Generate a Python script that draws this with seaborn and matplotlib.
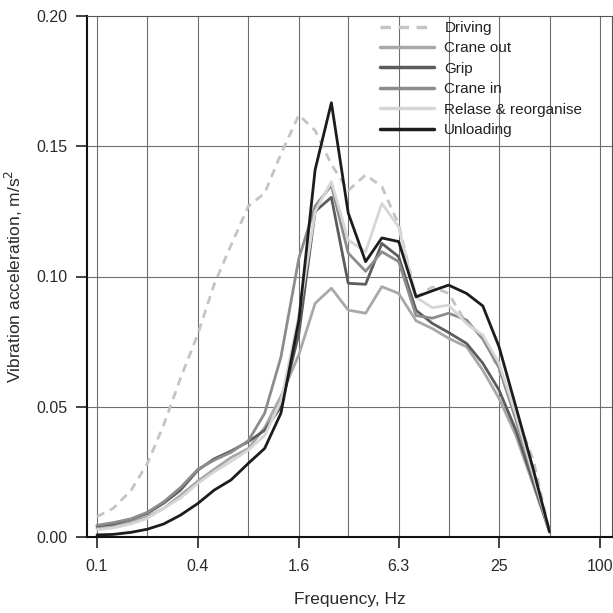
import numpy as np
import pandas as pd
import matplotlib
matplotlib.use("Agg")
import matplotlib.pyplot as plt
import seaborn as sns

sns.set_style("white")
plt.rcParams['font.family'] = ['Liberation Sans', 'DejaVu Sans']

# 1/3-octave band centre frequencies, Hz
freq = [0.1, 0.125, 0.16, 0.2, 0.25, 0.315, 0.4, 0.5, 0.63, 0.8, 1.0, 1.25, 1.6, 2.0,
        2.5, 3.15, 4.0, 5.0, 6.3, 8.0, 10.0, 12.5, 16.0, 20.0, 25.0, 31.5, 40.0, 50.0]

driving = [0.0078, 0.011, 0.018, 0.0283, 0.043, 0.061, 0.078, 0.097, 0.112, 0.127,
           0.132, 0.147, 0.162, 0.156, 0.143, 0.133, 0.139, 0.1345, 0.120, 0.092,
           0.096, 0.0935, 0.082, 0.077, 0.064, 0.047, 0.0296, 0.002]
crane_out = [0.0035, 0.0042, 0.0058, 0.0078, 0.011, 0.016, 0.0215, 0.026, 0.0305, 0.034,
             0.042, 0.054, 0.070, 0.0897, 0.0955, 0.0871, 0.0859, 0.0961, 0.0935, 0.083,
             0.080, 0.0763, 0.073, 0.064, 0.0532, 0.039, 0.020, 0.002]
grip = [0.0042, 0.005, 0.0068, 0.0091, 0.013, 0.018, 0.0257, 0.030, 0.033, 0.0366,
        0.041, 0.050, 0.078, 0.125, 0.1304, 0.0974, 0.097, 0.1127, 0.1076, 0.087,
        0.082, 0.0785, 0.0743, 0.0667, 0.0564, 0.041, 0.021, 0.002]
crane_in = [0.0045, 0.0055, 0.007, 0.0095, 0.0135, 0.019, 0.026, 0.0295, 0.0325, 0.037,
            0.0475, 0.069, 0.107, 0.127, 0.135, 0.109, 0.102, 0.1095, 0.1057, 0.085,
            0.084, 0.0859, 0.0833, 0.076, 0.065, 0.045, 0.023, 0.002]
relase = [0.0028, 0.0035, 0.005, 0.0072, 0.011, 0.015, 0.0206, 0.025, 0.029, 0.0334,
          0.039, 0.052, 0.085, 0.125, 0.1364, 0.114, 0.1095, 0.128, 0.119, 0.092,
          0.088, 0.089, 0.082, 0.0775, 0.0667, 0.047, 0.024, 0.002]
unloading = [0.0008, 0.001, 0.0018, 0.003, 0.005, 0.0084, 0.0129, 0.018, 0.0219, 0.0283,
             0.034, 0.0475, 0.0833, 0.141, 0.1667, 0.1244, 0.1057, 0.1148, 0.1134, 0.0922,
             0.0945, 0.0967, 0.0935, 0.0887, 0.073, 0.050, 0.026, 0.002]

names = ['Driving', 'Crane out', 'Grip', 'Crane in', 'Relase & reorganise', 'Unloading']
series = [driving, crane_out, grip, crane_in, relase, unloading]
colors = ['#c4c4c4', '#a8a8a8', '#5c5c5c', '#8c8c8c', '#d6d6d6', '#1c1c1c']

octave_grid = [0.1, 0.2, 0.4, 0.8, 1.6, 3.15, 6.3, 12.5, 25, 50, 100]
xticks = [0.1, 0.4, 1.6, 6.3, 25, 100]
xticklabels = ['0.1', '0.4', '1.6', '6.3', '25', '100']

df = pd.DataFrame({'freq': freq * len(names),
                   'acc': sum(series, []),
                   'activity': np.repeat(names, len(freq))})

fig = plt.figure(figsize=(6.13, 6.13), dpi=100)
ax = fig.add_axes([87 / 613, 1 - 537 / 613, 525 / 613, 521 / 613])

sns.lineplot(data=df, x='freq', y='acc', hue='activity', style='activity',
             hue_order=names, style_order=names, palette=colors,
             dashes={n: ((3, 2.2) if n == 'Driving' else '') for n in names},
             linewidth=2.0, ax=ax, legend=True)

ax.set_xscale('log')
ax.set_xlim(0.0872, 117.9)
ax.set_ylim(0, 0.2)

for f in octave_grid:
    ax.axvline(f, color='#6e6e6e', lw=0.8, zorder=0)
for v in [0.05, 0.10, 0.15]:
    ax.axhline(v, color='#6e6e6e', lw=0.8, zorder=0)

ax.set_xticks(xticks)
ax.set_xticklabels(xticklabels)
ax.xaxis.set_minor_locator(matplotlib.ticker.NullLocator())
ax.set_yticks([0, 0.05, 0.10, 0.15, 0.20])
ax.yaxis.set_major_formatter(matplotlib.ticker.FormatStrFormatter('%.2f'))
ax.tick_params(axis='both', direction='out', length=8, width=1.2, colors='#222222',
               labelsize=11.5, labelcolor='#2a2a2a', bottom=True, left=True)
ax.tick_params(axis='x', pad=8)
ax.tick_params(axis='y', pad=6)

for s in ['left', 'bottom']:
    ax.spines[s].set_color('#111111')
    ax.spines[s].set_linewidth(1.5)
for s in ['top', 'right']:
    ax.spines[s].set_color('#555555')
    ax.spines[s].set_linewidth(0.8)

ax.set_xlabel('Frequency, Hz', fontsize=12.5, color='#2a2a2a', labelpad=13)
ax.set_ylabel('Vibration acceleration, m/s$^2$', fontsize=12.5, color='#2a2a2a', labelpad=8)

leg = ax.legend(loc='upper left', bbox_to_anchor=(0.535, 1.014), frameon=False,
                fontsize=11, handlelength=3.5, labelspacing=0.42, handletextpad=0.7,
                borderpad=0.3)
for t in leg.get_texts():
    t.set_color('#222222')
for h in leg.get_lines():
    h.set_linewidth(2.5)

fig.savefig('out.png', dpi=100)
